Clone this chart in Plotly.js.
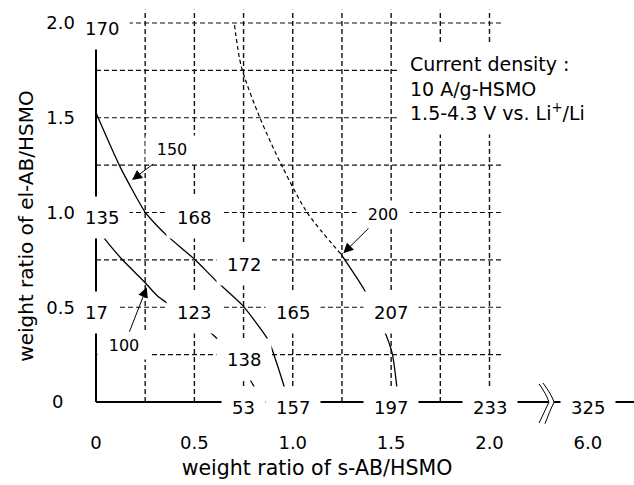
<!DOCTYPE html>
<html>
<head>
<meta charset="utf-8">
<script src="https://cdn.plot.ly/plotly-3.0.1.min.js"></script>
<style>html,body{margin:0;padding:0;background:#fff;}</style>
</head>
<body>
<div id="chart" style="width:634px;height:485px;"></div>
<script>
// ---- axis ticks ----
const sTickVals = [0, 0.5, 1.0, 1.5, 2.0, 6.0];
const sTickText = ['0', '0.5', '1.0', '1.5', '2.0', '6.0'];
const elTickVals = [0, 0.5, 1.0, 1.5, 2.0];
const elTickText = ['0\u00a0\u00a0', '0.5', '1.0', '1.5', '2.0'];
const gridSteps = [0.25, 0.5, 0.75, 1.0, 1.25, 1.5, 1.75, 2.0];

// ---- capacity values at grid points (mAh/g) ----
const capS  = [0,   0,   0,  0.5, 0.75, 0.5, 1.0, 1.5, 0.75, 0.75, 1.0, 1.5, 2.0, 6.0];
const capEl = [2.0, 1.0, 0.5, 1.0, 0.75, 0.5, 0.5, 0.5, 0.25, 0,    0,   0,   0,   0];
const capVal = [170, 135, 17, 168, 172, 123, 165, 207, 138, 53, 157, 197, 233, 325];

// ---- iso-capacity lines ----
const c100S = [0, 0.035, 0.132, 0.248, 0.314, 0.537, 0.603, 0.76, 0.805, 0.862];
const c100E = [0.93, 0.874, 0.753, 0.632, 0.558, 0.40, 0.347, 0.158, 0.079, 0.0];
const c150S = [0, 0.122, 0.248, 0.314, 0.365, 0.501, 0.613, 0.744, 0.856, 0.881, 0.957, 0.977];
const c150E = [1.526, 1.242, 1.005, 0.926, 0.874, 0.753, 0.637, 0.511, 0.358, 0.316, 0.079, 0.0];
const c200dashS = [0.704, 0.739, 0.835, 0.947, 1.073, 1.246];
const c200dashE = [1.989, 1.768, 1.495, 1.242, 1.0, 0.779];
const c200S = [1.246, 1.362, 1.458, 1.504, 1.529, 1.535];
const c200E = [0.779, 0.595, 0.395, 0.263, 0.079, 0.0];

// ---- iso-line callouts: label position and arrow tip ----
const calloutVal = [150, 100, 200];
const calloutS = [0.386, 0.142, 1.457];
const calloutE = [1.330, 0.297, 0.990];
const calloutTipS = [0.183, 0.258, 1.257];
const calloutTipE = [1.172, 0.605, 0.785];

// ---- axis break: s-AB values beyond 2.0 are drawn in the slot after the break ----
const breakSlot = 2.5;
function sPos(v) { return v > 2.0 ? breakSlot : v; }

const FONT = "'DejaVu Sans', Verdana, sans-serif";
const black = '#000';

const traces = [
  {x: [0, 0], y: [0, 2.0], mode: 'lines', line: {color: black, width: 2}, hoverinfo: 'skip'},
  {x: [0, 2.302], y: [0, 0], mode: 'lines', line: {color: black, width: 2}, hoverinfo: 'skip'},
  {x: [2.328, 2.75], y: [0, 0], mode: 'lines', line: {color: black, width: 2}, hoverinfo: 'skip'},
  {x: c100S, y: c100E, mode: 'lines', line: {color: black, width: 1.3, shape: 'spline', smoothing: 0.6}, name: '100'},
  {x: c150S, y: c150E, mode: 'lines', line: {color: black, width: 1.3, shape: 'spline', smoothing: 0.6}, name: '150'},
  {x: c200dashS, y: c200dashE, mode: 'lines', line: {color: black, width: 1.2, dash: '4px,3px', shape: 'spline', smoothing: 0.8}, name: '200'},
  {x: c200S, y: c200E, mode: 'lines', line: {color: black, width: 1.3, shape: 'spline', smoothing: 0.6}, name: '200'}
];

const shapes = [];
gridSteps.forEach(g => {
  shapes.push({type: 'line', xref: 'x', yref: 'y', x0: g, x1: g, y0: 0, y1: 2.07, layer: 'below',
    line: {color: '#111', width: 1.4, dash: '5px,3px'}});
  shapes.push({type: 'line', xref: 'x', yref: 'y', x0: 0, x1: 2.07, y0: g, y1: g, layer: 'below',
    line: {color: '#111', width: 1.1, dash: '5px,3px'}});
});
// break marks
shapes.push({type: 'path', xref: 'x', yref: 'y', path: 'M2.252,0.095 Q2.29,0.04 2.302,0 Q2.28,-0.05 2.252,-0.111', line: {color: black, width: 1}, layer: 'above'});
shapes.push({type: 'path', xref: 'x', yref: 'y', path: 'M2.272,0.1 Q2.315,0.04 2.328,0 Q2.305,-0.05 2.282,-0.115', line: {color: black, width: 1}, layer: 'above'});

const annotations = [];
capVal.forEach((v, i) => {
  annotations.push({x: sPos(capS[i]), y: capEl[i], xref: 'x', yref: 'y', text: String(v),
    showarrow: false, bgcolor: 'white', borderpad: 10, yshift: -5,
    xshift: (capS[i] === 0 && v >= 100) ? 6 : 0,
    font: {family: FONT, size: 18, color: black}});
});
calloutVal.forEach((v, i) => {
  annotations.push({x: calloutTipS[i], y: calloutTipE[i], ax: calloutS[i], ay: calloutE[i],
    xref: 'x', yref: 'y', axref: 'x', ayref: 'y', text: String(v),
    showarrow: true, arrowhead: 2, arrowsize: 2, arrowwidth: 1, arrowcolor: black,
    standoff: 0, bgcolor: 'white', borderpad: 4, width: 44,
    font: {family: FONT, size: 16, color: black}});
});
annotations.push({x: 1.540, y: 1.900, xref: 'x', yref: 'y', xanchor: 'left', yanchor: 'top', align: 'left',
  text: 'Current density :<br>10 A/g-HSMO<br>1.5-4.3 V vs. Li<sup>+</sup>/Li',
  showarrow: false, bgcolor: 'white', borderpad: 10, font: {family: FONT, size: 19, color: black}});

const layout = {
  width: 634, height: 485,
  margin: {l: 0, r: 0, t: 0, b: 33, pad: 0},
  paper_bgcolor: 'white', plot_bgcolor: 'white',
  showlegend: false,
  font: {family: FONT, color: black},
  xaxis: {
    range: [-0.48793, 2.73443], anchor: 'free', position: 1 - 430 / 452,
    tickmode: 'array', tickvals: sTickVals.map(sPos), ticktext: sTickText,
    showgrid: false, zeroline: false, showline: false, ticks: '',
    tickfont: {family: FONT, size: 18, color: black},
    title: {text: 'weight ratio of s-AB/HSMO', font: {family: FONT, size: 20.5, color: black}, standoff: 8}
  },
  yaxis: {
    range: [(402 - 452) / 189.5, 402 / 189.5], anchor: 'free', position: 75 / 634,
    tickmode: 'array', tickvals: elTickVals, ticktext: elTickText,
    showgrid: false, zeroline: false, showline: false, ticks: '',
    tickfont: {family: FONT, size: 18, color: black},
    title: {text: 'weight ratio of el-AB/HSMO', font: {family: FONT, size: 20, color: black}, standoff: 6}
  },
  shapes: shapes,
  annotations: annotations
};

Plotly.newPlot('chart', traces, layout, {displayModeBar: false, staticPlot: true});
</script>
</body>
</html>
